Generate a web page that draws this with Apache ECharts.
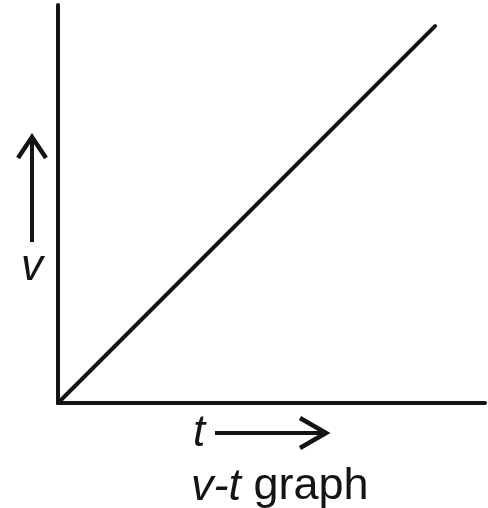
<!DOCTYPE html>
<html><head><meta charset="utf-8">
<script src="https://cdn.jsdelivr.net/npm/echarts@6/dist/echarts.min.js"></script>
<style>html,body{margin:0;padding:0;background:#fff;}#c{width:488px;height:508px;}</style>
</head><body><div id="c"></div>
<script>
const tValues = [0, 8.83];
const vValues = [0, 9.47];
const xLabel = 't';
const yLabel = 'v';
const titleParts = ['v-t', 'graph'];

const chart = echarts.init(document.getElementById('c'));
const ink = '#141414';
const font = '"Liberation Sans", Arial, sans-serif';
chart.setOption({
  backgroundColor: '#fff',
  animation: false,
  title: {
    text: '{i|' + titleParts[0] + '}{n| ' + titleParts[1] + '}',
    left: 186, top: 459,
    textStyle: {
      fontWeight: 'normal',
      rich: {
        i: {fontFamily: font, fontStyle: 'italic', fontWeight: 'normal', fontSize: 45, color: ink, lineHeight: 46},
        n: {fontFamily: font, fontWeight: 'normal', fontSize: 45, color: ink, lineHeight: 46}
      }
    }
  },
  grid: {left: 58, right: 3, top: 5, bottom: 105},
  xAxis: {
    type: 'value', min: 0, max: 10,
    axisLine: {show: true, onZero: false, lineStyle: {color: ink, width: 4}},
    axisTick: {show: false}, axisLabel: {show: false}, splitLine: {show: false}
  },
  yAxis: {
    type: 'value', min: 0, max: 10,
    axisLine: {show: true, onZero: false, lineStyle: {color: ink, width: 4}},
    axisTick: {show: false}, axisLabel: {show: false}, splitLine: {show: false}
  },
  series: [{
    type: 'line',
    data: tValues.map((t, i) => [t, vValues[i]]),
    symbol: 'none',
    lineStyle: {color: ink, width: 4, cap: 'round'}
  }],
  graphic: [
    {type: 'line', shape: {x1: 32, y1: 242, x2: 32, y2: 138}, style: {stroke: ink, lineWidth: 4}},
    {type: 'polyline', shape: {points: [[18, 158], [32, 137], [46, 158]]}, style: {stroke: ink, lineWidth: 4.5, fill: null, lineJoin: 'miter'}},
    {type: 'text', x: 32, y: 268, style: {text: yLabel, font: 'italic 44px "Liberation Sans", Arial, sans-serif', fill: ink, align: 'center', verticalAlign: 'middle'}},
    {type: 'line', shape: {x1: 215, y1: 433, x2: 325, y2: 433}, style: {stroke: ink, lineWidth: 4}},
    {type: 'polyline', shape: {points: [[300, 418], [326, 433], [300, 448]]}, style: {stroke: ink, lineWidth: 4.5, fill: null, lineJoin: 'miter'}},
    {type: 'text', x: 199, y: 434, style: {text: xLabel, font: 'italic 44px "Liberation Sans", Arial, sans-serif', fill: ink, align: 'center', verticalAlign: 'middle'}}
  ]
});
</script></body></html>
